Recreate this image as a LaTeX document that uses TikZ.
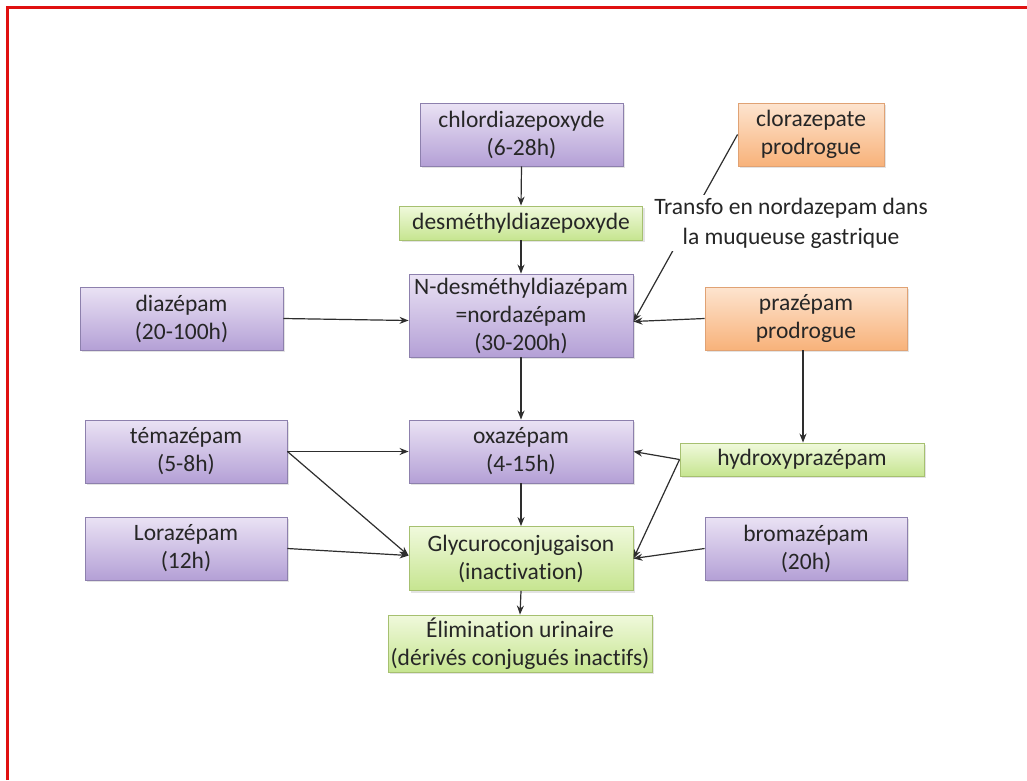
\documentclass[tikz,border=0pt]{standalone}
\usepackage{fontspec}
\setmainfont[RawFeature={-liga,-calt,-dlig,-clig}]{Carlito}
\usetikzlibrary{arrows.meta,shadows}
\definecolor{purpT}{HTML}{EAE2F4}
\definecolor{purpB}{HTML}{B4A0D6}
\definecolor{purpD}{HTML}{8D80AD}
\definecolor{grnT}{HTML}{F0F9DC}
\definecolor{grnB}{HTML}{C6E590}
\definecolor{grnD}{HTML}{A6C070}
\definecolor{orT}{HTML}{FDE4CF}
\definecolor{orB}{HTML}{F8B27A}
\definecolor{orD}{HTML}{E0A274}
\definecolor{linec}{HTML}{2E2E2E}
\definecolor{textc}{HTML}{262626}
\definecolor{framered}{HTML}{E01010}
\begin{document}
\begin{tikzpicture}[x=1pt,y=-1pt,
  basebox/.style={draw, line width=0.9pt, align=center, inner sep=0pt,
    font=\fontsize{23.5}{28}\selectfont, text=textc,
    drop shadow={shadow xshift=2pt, shadow yshift=-2pt, opacity=0.22}},
  pbox/.style={basebox, draw=purpD, top color=purpT, bottom color=purpB},
  gbox/.style={basebox, draw=grnD, top color=grnT, bottom color=grnB},
  obox/.style={basebox, draw=orD, top color=orT, bottom color=orB},
  conn/.style={draw=linec, line width=1.2pt, -{Stealth[length=9pt,width=7pt]}}
]
\useasboundingbox (0,0) rectangle (1027,780);
\fill[white] (0,0) rectangle (1027,780);
\draw[framered, line width=3pt] (7,780) -- (7,7) -- (1027,7);

\node[pbox, minimum width=203pt, minimum height=63pt] (chlor) at (521.5,134.5) {chlordiazepoxyde\\(6-28h)};
\node[gbox, minimum width=243pt, minimum height=34pt] (desm) at (521,223) {desméthyldiazepoxyde};
\node[pbox, minimum width=224pt, minimum height=83pt] (ndes) at (521,315.5) {N-desméthyldiazépam\\=nordazépam\\(30-200h)};
\node[pbox, minimum width=203pt, minimum height=63pt] (diaz) at (181.5,318.5) {diazépam\\(20-100h)};
\node[obox, minimum width=146pt, minimum height=63pt] (cloraz) at (811,134.5) {clorazepate\\prodrogue};
\node[obox, minimum width=202pt, minimum height=63pt] (praz) at (806,318.5) {prazépam\\prodrogue};
\node[pbox, minimum width=202pt, minimum height=63pt] (tema) at (186,451.5) {témazépam\\(5-8h)};
\node[pbox, minimum width=224pt, minimum height=63pt] (oxa) at (521,451.5) {oxazépam\\(4-15h)};
\node[gbox, minimum width=244pt, minimum height=33pt] (hydro) at (802,459.5) {hydroxyprazépam};
\node[pbox, minimum width=202pt, minimum height=63pt] (lora) at (186,548.5) {Lorazépam\\(12h)};
\node[gbox, minimum width=224pt, minimum height=64pt] (glyc) at (521,558.5) {Glycuroconjugaison\\(inactivation)};
\node[pbox, minimum width=202pt, minimum height=63pt] (broma) at (806,548.5) {bromazépam\\(20h)};
\node[gbox, minimum width=264pt, minimum height=57pt] (elim) at (520,643.5) {Élimination urinaire\\(dérivés conjugués inactifs)};

\draw[conn] (chlor.south) -- (desm.north);
\draw[conn] (desm.south) -- (ndes.north);
\draw[conn] (diaz.east) -- ([yshift=-5pt]ndes.west);
\draw[conn] (cloraz.west) -- ([yshift=-6pt]ndes.east);
\draw[conn] (praz.west) -- ([yshift=-6pt]ndes.east);
\node[fill=white, inner sep=3pt, align=center, text=textc, font=\fontsize{23.5}{30}\selectfont] (transfo) at (791,223) {Transfo en nordazepam dans\\la muqueuse gastrique};
\draw[conn] (ndes.south) -- (oxa.north);
\draw[conn] ([xshift=-3pt]praz.south) -- ([xshift=-3pt]praz.south |- hydro.north);
\draw[conn] (tema.east) -- (oxa.west);
\draw[conn] (tema.east) -- ([yshift=3pt]glyc.west);
\draw[conn] (lora.east) -- ([yshift=3pt]glyc.west);
\draw[conn] (hydro.west) -- (oxa.east);
\draw[conn] (hydro.west) -- (glyc.east);
\draw[conn] (broma.west) -- (glyc.east);
\draw[conn] (oxa.south) -- (glyc.north);
\draw[conn] (glyc.south) -- (elim.north);
\end{tikzpicture}
\end{document}
